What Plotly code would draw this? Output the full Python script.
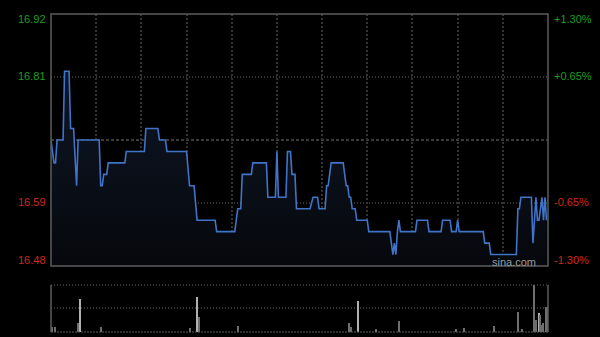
import plotly.graph_objects as go

# ---- data ----
minutes = [0, 2, 3, 4, 8, 9, 12, 13, 15, 17, 18, 32, 33, 34, 35, 37, 38, 49, 50, 62, 63, 71, 72, 76, 77,
           90, 92, 95, 97, 109, 110, 122, 124, 126, 127, 133, 134, 143, 144, 149, 150, 151, 156, 157, 159,
           160, 162, 163, 172, 174, 177, 178, 182, 183, 184, 186, 194, 196, 197, 198, 199, 200, 202, 203,
           210, 211, 225, 226, 227, 228, 229, 230, 231, 232, 242, 243, 250, 251, 259, 260, 265, 266, 269,
           270, 271, 287, 288, 291, 292, 309, 310, 311, 312, 319, 320, 321, 322, 323, 324, 326, 327, 328, 329]
prices = [16.70, 16.66, 16.66, 16.70, 16.70, 16.82, 16.82, 16.72, 16.72, 16.62, 16.70, 16.70, 16.62, 16.62,
          16.64, 16.64, 16.66, 16.66, 16.68, 16.68, 16.72, 16.72, 16.70, 16.70, 16.68,
          16.68, 16.62, 16.62, 16.56, 16.56, 16.54, 16.54, 16.58, 16.58, 16.64, 16.64, 16.66, 16.66, 16.60,
          16.60, 16.68, 16.60, 16.60, 16.68, 16.68,
          16.64, 16.64, 16.58, 16.58, 16.60, 16.60, 16.58, 16.58, 16.62, 16.62, 16.66, 16.66, 16.62, 16.62,
          16.60, 16.60, 16.58, 16.58, 16.56,
          16.56, 16.54, 16.54, 16.52, 16.50, 16.52, 16.50, 16.54, 16.56, 16.54, 16.54, 16.56, 16.56, 16.54,
          16.54, 16.56, 16.56, 16.54, 16.54,
          16.56, 16.54, 16.54, 16.52, 16.52, 16.50, 16.50, 16.58, 16.58, 16.60, 16.60, 16.52, 16.56, 16.60,
          16.56, 16.56, 16.60, 16.56, 16.60, 16.56]

vol_minutes = [1, 3, 18, 19, 33, 92, 97, 98, 124, 198, 199, 204, 216, 231, 269, 274, 294, 310, 313,
               321, 322, 324, 325, 326, 327, 329, 330]
vol_values = [11, 11, 20, 70, 11, 8, 75, 31, 13, 20, 10, 67, 6, 24, 6, 8, 13, 43, 6,
              100, 26, 40, 36, 15, 20, 53, 53]
vol_light = [19, 97, 204, 324]

prev_close = 16.70
left_ticks = [16.92, 16.81, 16.59, 16.48]
left_labels = ["16.92", "16.81", "16.59", "16.48"]
right_labels = ["+1.30%", "+0.65%", "-0.65%", "-1.30%"]
grid_minutes = [30, 60, 90, 120, 150, 180, 210, 240, 270, 300]

W, H = 600, 337
X0, X1 = 51, 548
MY0, MY1 = 14, 266
VY0, VY1 = 285, 332

def px_x(p):
    return p / W

def px_y(p):
    return 1 - p / H

fig = go.Figure()

fig.add_trace(go.Scatter(
    x=minutes, y=prices, mode="lines",
    line=dict(color="#3f74c8", width=1.6, shape="linear"),
    fill="tozeroy",
    fillgradient=dict(type="vertical", start=16.48, stop=16.82,
                      colorscale=[[0, "rgb(6,8,12)"], [1, "rgb(14,22,38)"]]),
    hoverinfo="skip", showlegend=False, xaxis="x", yaxis="y"))

vol_colors = ["#b0b0b0" if m in vol_light else "#6e6e6e" for m in vol_minutes]
fig.add_trace(go.Bar(
    x=vol_minutes, y=vol_values, width=0.7,
    marker=dict(color=vol_colors, line=dict(width=0)),
    hoverinfo="skip", showlegend=False, xaxis="x2", yaxis="y2"))

shapes = []
# horizontal grid lines in price panel
for v in [16.81, 16.59]:
    shapes.append(dict(type="line", xref="paper", yref="y", x0=px_x(X0), x1=px_x(X1), y0=v, y1=v,
                       line=dict(color="#6a6a6a", width=1, dash="1px,2px"), layer="below"))
shapes.append(dict(type="line", xref="paper", yref="y", x0=px_x(X0), x1=px_x(X1), y0=prev_close, y1=prev_close,
                   line=dict(color="#777777", width=1, dash="3px,2px"), layer="below"))
# price panel border
shapes.append(dict(type="rect", xref="paper", yref="paper", x0=px_x(X0), x1=px_x(X1), y0=px_y(MY1), y1=px_y(MY0),
                   line=dict(color="#5c5c5c", width=1.5), layer="above"))
# volume panel lines
for yy in [VY0, (VY0 + VY1) / 2 - 0.5]:
    shapes.append(dict(type="line", xref="paper", yref="paper", x0=px_x(X0), x1=px_x(X1), y0=px_y(yy), y1=px_y(yy),
                       line=dict(color="#6a6a6a", width=1, dash="1px,2px"), layer="below"))
shapes.append(dict(type="line", xref="paper", yref="paper", x0=px_x(X0), x1=px_x(X1), y0=px_y(VY1), y1=px_y(VY1),
                   line=dict(color="#5c5c5c", width=1, dash="2px,1px"), layer="above"))
for xx in [X0, X1]:
    shapes.append(dict(type="line", xref="paper", yref="paper", x0=px_x(xx), x1=px_x(xx), y0=px_y(VY1), y1=px_y(VY0),
                       line=dict(color="#5c5c5c", width=1.5), layer="above"))

annotations = []
shifts = [-5, 1, 1, 6]
for v, lab, rl, s in zip(left_ticks, left_labels, right_labels, shifts):
    col = "#1c9e1c" if v > prev_close else "#d0271d"
    annotations.append(dict(x=px_x(48.5), xref="paper", y=v, yref="y", yshift=s, text=lab,
                            xanchor="right", yanchor="middle", showarrow=False,
                            font=dict(family="Liberation Sans, Arial", size=11, color=col)))
    annotations.append(dict(x=px_x(552), xref="paper", y=v, yref="y", yshift=s, text=rl,
                            xanchor="left", yanchor="middle", showarrow=False,
                            font=dict(family="Liberation Sans, Arial", size=11, color=col)))
annotations.append(dict(x=px_x(538), xref="paper", y=px_y(262), yref="paper", text="sina.com",
                        xanchor="right", yanchor="middle", showarrow=False,
                        font=dict(family="Liberation Sans, Arial", size=11, color="#9a9a9a")))

fig.update_layout(
    width=W, height=H, margin=dict(l=0, r=0, t=0, b=0),
    paper_bgcolor="black", plot_bgcolor="black",
    xaxis=dict(domain=[px_x(X0), px_x(X1)], range=[0, 330], tickvals=grid_minutes,
               showticklabels=False, ticks="", showgrid=True, gridcolor="#333333", gridwidth=1.5,
               griddash="2px,2px", zeroline=False, showline=False, anchor="y"),
    yaxis=dict(domain=[px_y(MY1), px_y(MY0)], range=[16.48, 16.92], showticklabels=False, ticks="",
               showgrid=False, zeroline=False, showline=False, anchor="x"),
    xaxis2=dict(domain=[px_x(X0), px_x(X1)], range=[0, 330], showticklabels=False, ticks="",
                showgrid=False, zeroline=False, showline=False, anchor="y2"),
    yaxis2=dict(domain=[px_y(VY1), px_y(VY0)], range=[0, 100], showticklabels=False, ticks="",
                showgrid=False, zeroline=False, showline=False, anchor="x2"),
    shapes=shapes, annotations=annotations, bargap=0,
)

fig.write_html("out.html")
